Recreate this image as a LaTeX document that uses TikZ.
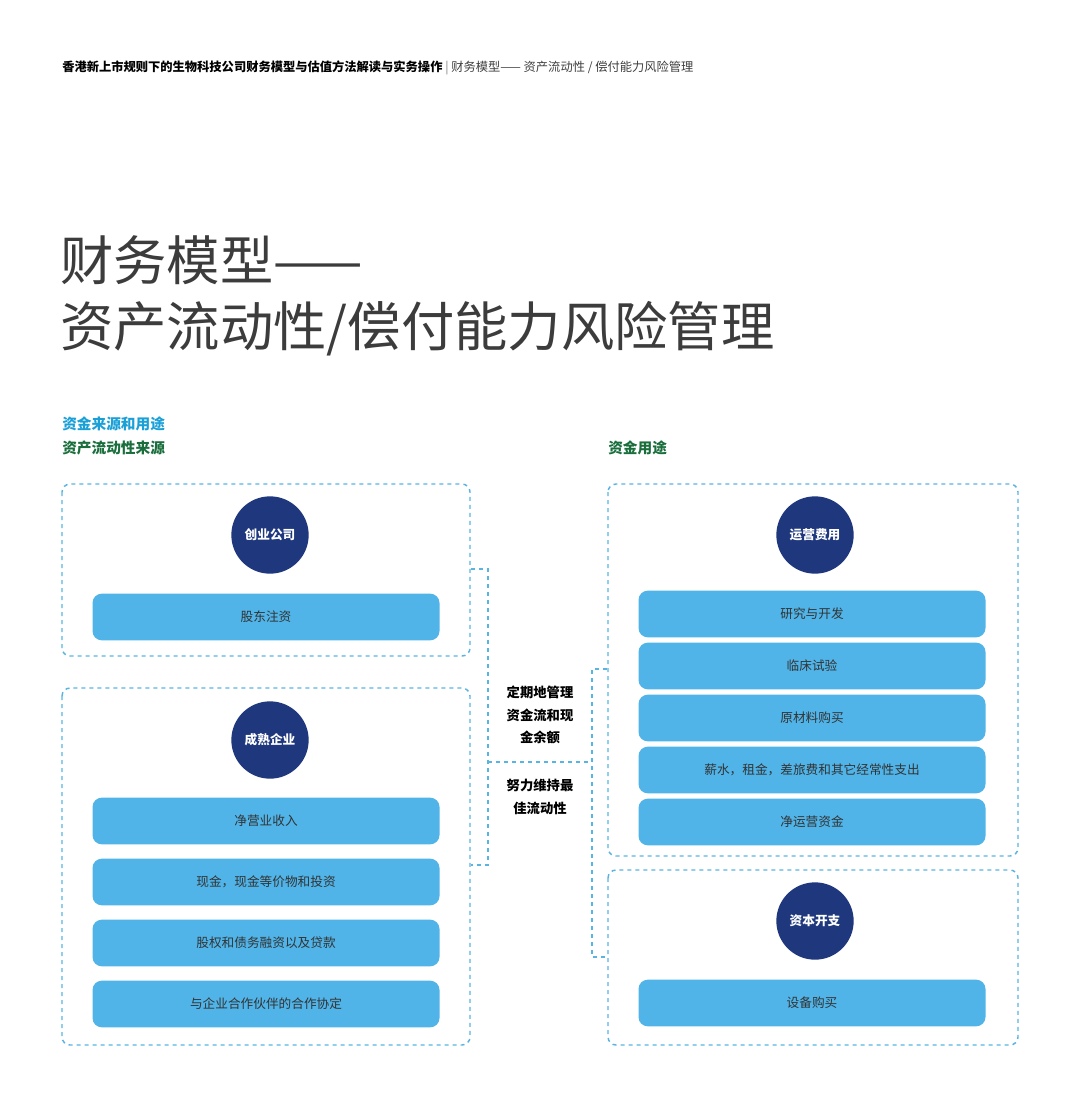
\documentclass[tikz,border=0pt]{standalone}
\usepackage{fontspec}
\setmainfont{Noto Sans CJK SC}
\usetikzlibrary{positioning, calc}
\definecolor{navy}{RGB}{30, 55, 125}
\definecolor{barblue}{RGB}{80, 180, 232}
\definecolor{dashblue}{RGB}{90, 180, 225}
\definecolor{headcyan}{RGB}{26, 160, 215}
\definecolor{headgreen}{RGB}{25, 110, 60}
\definecolor{titlegray}{RGB}{60, 60, 60}

\begin{document}
\begin{tikzpicture}[
    x=0.75pt, y=-0.75pt,
    group/.style={draw=dashblue, dashed, line width=1.1pt, rounded corners=6pt},
    bar/.style={fill=barblue, rounded corners=7pt, minimum width=260.25pt, minimum height=35pt, font=\fontsize{9.5}{11}\selectfont, text=black!80, inner sep=0pt},
    badge/.style={circle, fill=navy, minimum size=58pt, text=white, font=\fontsize{9.5}{11}\selectfont\bfseries, inner sep=0pt},
    heading/.style={anchor=west, font=\fontsize{11}{13}\selectfont\bfseries, inner sep=0pt},
    note/.style={align=center, font=\fontsize{10}{17}\selectfont\bfseries, inner sep=0pt},
    bracket/.style={draw=dashblue, dashed, line width=1.1pt}
]
    \useasboundingbox (0,0) rectangle (1080,1117);
    \fill[white] (0,0) rectangle (1080,1117);

    % Page header and title
    \node[anchor=west, inner sep=0pt, font=\fontsize{9.2}{11}\selectfont] (header) at (62,68)
        {\textbf{香港新上市规则下的生物科技公司财务模型与估值方法解读与实务操作} {\color{black!50}|} {\color{black!75}财务模型—— 资产流动性 / 偿付能力风险管理}};
    \node[anchor=west, inner sep=0pt, text=titlegray, font=\fontsize{40}{50}\selectfont, align=left] (title) at (60,296)
        {财务模型——\\资产流动性/偿付能力风险管理};

    % Section headings
    \node[heading, text=headcyan] (usage) at (62,424) {资金来源和用途};
    \node[heading, text=headgreen] (sources) at (62,448) {资产流动性来源};
    \node[heading, text=headgreen] (uses) at (608,448) {资金用途};

    % Dashed groups
    \draw[group] (62,484) rectangle (470,656);
    \draw[group] (62,688) rectangle (470,1045);
    \draw[group] (608,484) rectangle (1018,856);
    \draw[group] (608,870) rectangle (1018,1045);

    % Left side
    \node[badge] (startup) at (270,535) {创业公司};
    \node[bar] (equity) at (266,617) {股东注资};
    \node[badge] (mature) at (270,740) {成熟企业};
    \node[bar] (income) at (266,821) {净营业收入};
    \node[bar] (cash) at (266,882) {现金，现金等价物和投资};
    \node[bar] (debt) at (266,943) {股权和债务融资以及贷款};
    \node[bar] (partner) at (266,1004) {与企业合作伙伴的合作协定};

    % Right side
    \node[badge] (opex) at (815,535) {运营费用};
    \node[bar] (rnd) at (812,614) {研究与开发};
    \node[bar] (trial) at (812,666) {临床试验};
    \node[bar] (material) at (812,718) {原材料购买};
    \node[bar] (salary) at (812,770) {薪水，租金，差旅费和其它经常性支出};
    \node[bar] (capital) at (812,822) {净运营资金};
    \node[badge] (capex) at (815,921) {资本开支};
    \node[bar] (equip) at (812,1003) {设备购买};

    % Middle brackets
    \coordinate (lt) at (471,569);
    \coordinate (lb) at (471,865);
    \coordinate (rt) at (607,669);
    \coordinate (rb) at (607,957);
    \draw[bracket] (lt) -- (488,569) -- (488,865) -- (lb);
    \draw[bracket] (rt) -- (592,669) -- (592,957) -- (rb);
    \draw[bracket] (488,762) -- (592,762);
    \node[note] (manage) at (540,715) {定期地管理\\资金流和现\\金余额};
    \node[note] (keep) at (540,797) {努力维持最\\佳流动性};
\end{tikzpicture}
\end{document}
